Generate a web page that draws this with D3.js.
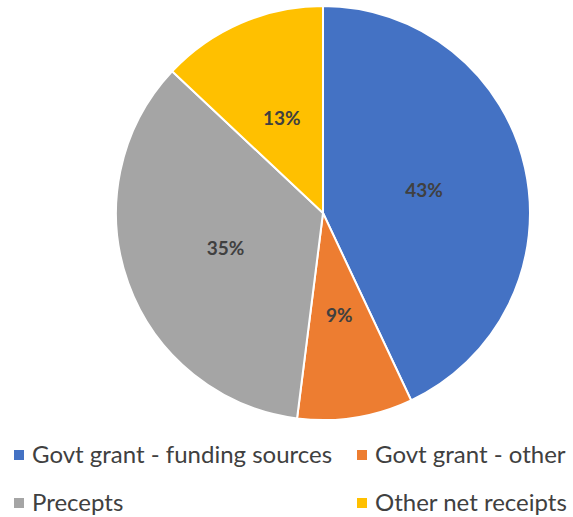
<!DOCTYPE html>
<html>
<head>
<meta charset="utf-8">
<script src="https://cdn.jsdelivr.net/npm/d3@7"></script>
<style>
  body { margin: 0; background: #fff; }
  svg text { font-family: Lato, "Open Sans", sans-serif; }
</style>
</head>
<body>
<div id="chart"></div>
<script>
const categories = ['Govt grant - funding sources', 'Govt grant - other', 'Precepts', 'Other net receipts'];
const shares = [43, 9, 35, 13];
const colours = ['#4472C4', '#ED7D31', '#A5A5A5', '#FFC000'];

const width = 573, height = 517;
const cx = 323, cy = 213, radius = 207;

const svg = d3.select('#chart')
    .append('svg')
    .attr('width', width)
    .attr('height', height);

const color = d3.scaleOrdinal().domain(categories).range(colours);

const pie = d3.pie().sort(null).value(d => d.value);
const arcs = pie(categories.map((c, i) => ({ name: c, value: shares[i] })));

const arc = d3.arc().innerRadius(0).outerRadius(radius);
const labelArc = d3.arc().innerRadius(radius * 0.5).outerRadius(radius * 0.5);

const g = svg.append('g').attr('transform', `translate(${cx},${cy})`);

g.selectAll('path')
    .data(arcs)
    .join('path')
    .attr('d', arc)
    .attr('fill', d => color(d.data.name))
    .attr('stroke', '#fff')
    .attr('stroke-width', 2);

g.selectAll('text.lbl')
    .data(arcs)
    .join('text')
    .attr('class', 'lbl')
    .attr('transform', d => `translate(${labelArc.centroid(d)})`)
    .attr('text-anchor', 'middle')
    .attr('dy', '0.35em')
    .attr('font-size', 19)
    .attr('font-weight', 'bold')
    .attr('fill', '#404040')
    .text(d => d.data.value + '%');

// legend, two columns x two rows
const legendX = [14, 357];
const legendY = [455, 503];
const legend = svg.append('g');
categories.forEach((c, i) => {
    const x = legendX[i % 2], y = legendY[Math.floor(i / 2)];
    legend.append('rect')
        .attr('x', x).attr('y', y - 5)
        .attr('width', 10).attr('height', 10)
        .attr('fill', color(c));
    legend.append('text')
        .attr('x', x + 18).attr('y', y)
        .attr('dy', '0.35em')
        .attr('font-size', 24)
        .attr('fill', '#404040')
        .text(c);
});
</script>
</body>
</html>
